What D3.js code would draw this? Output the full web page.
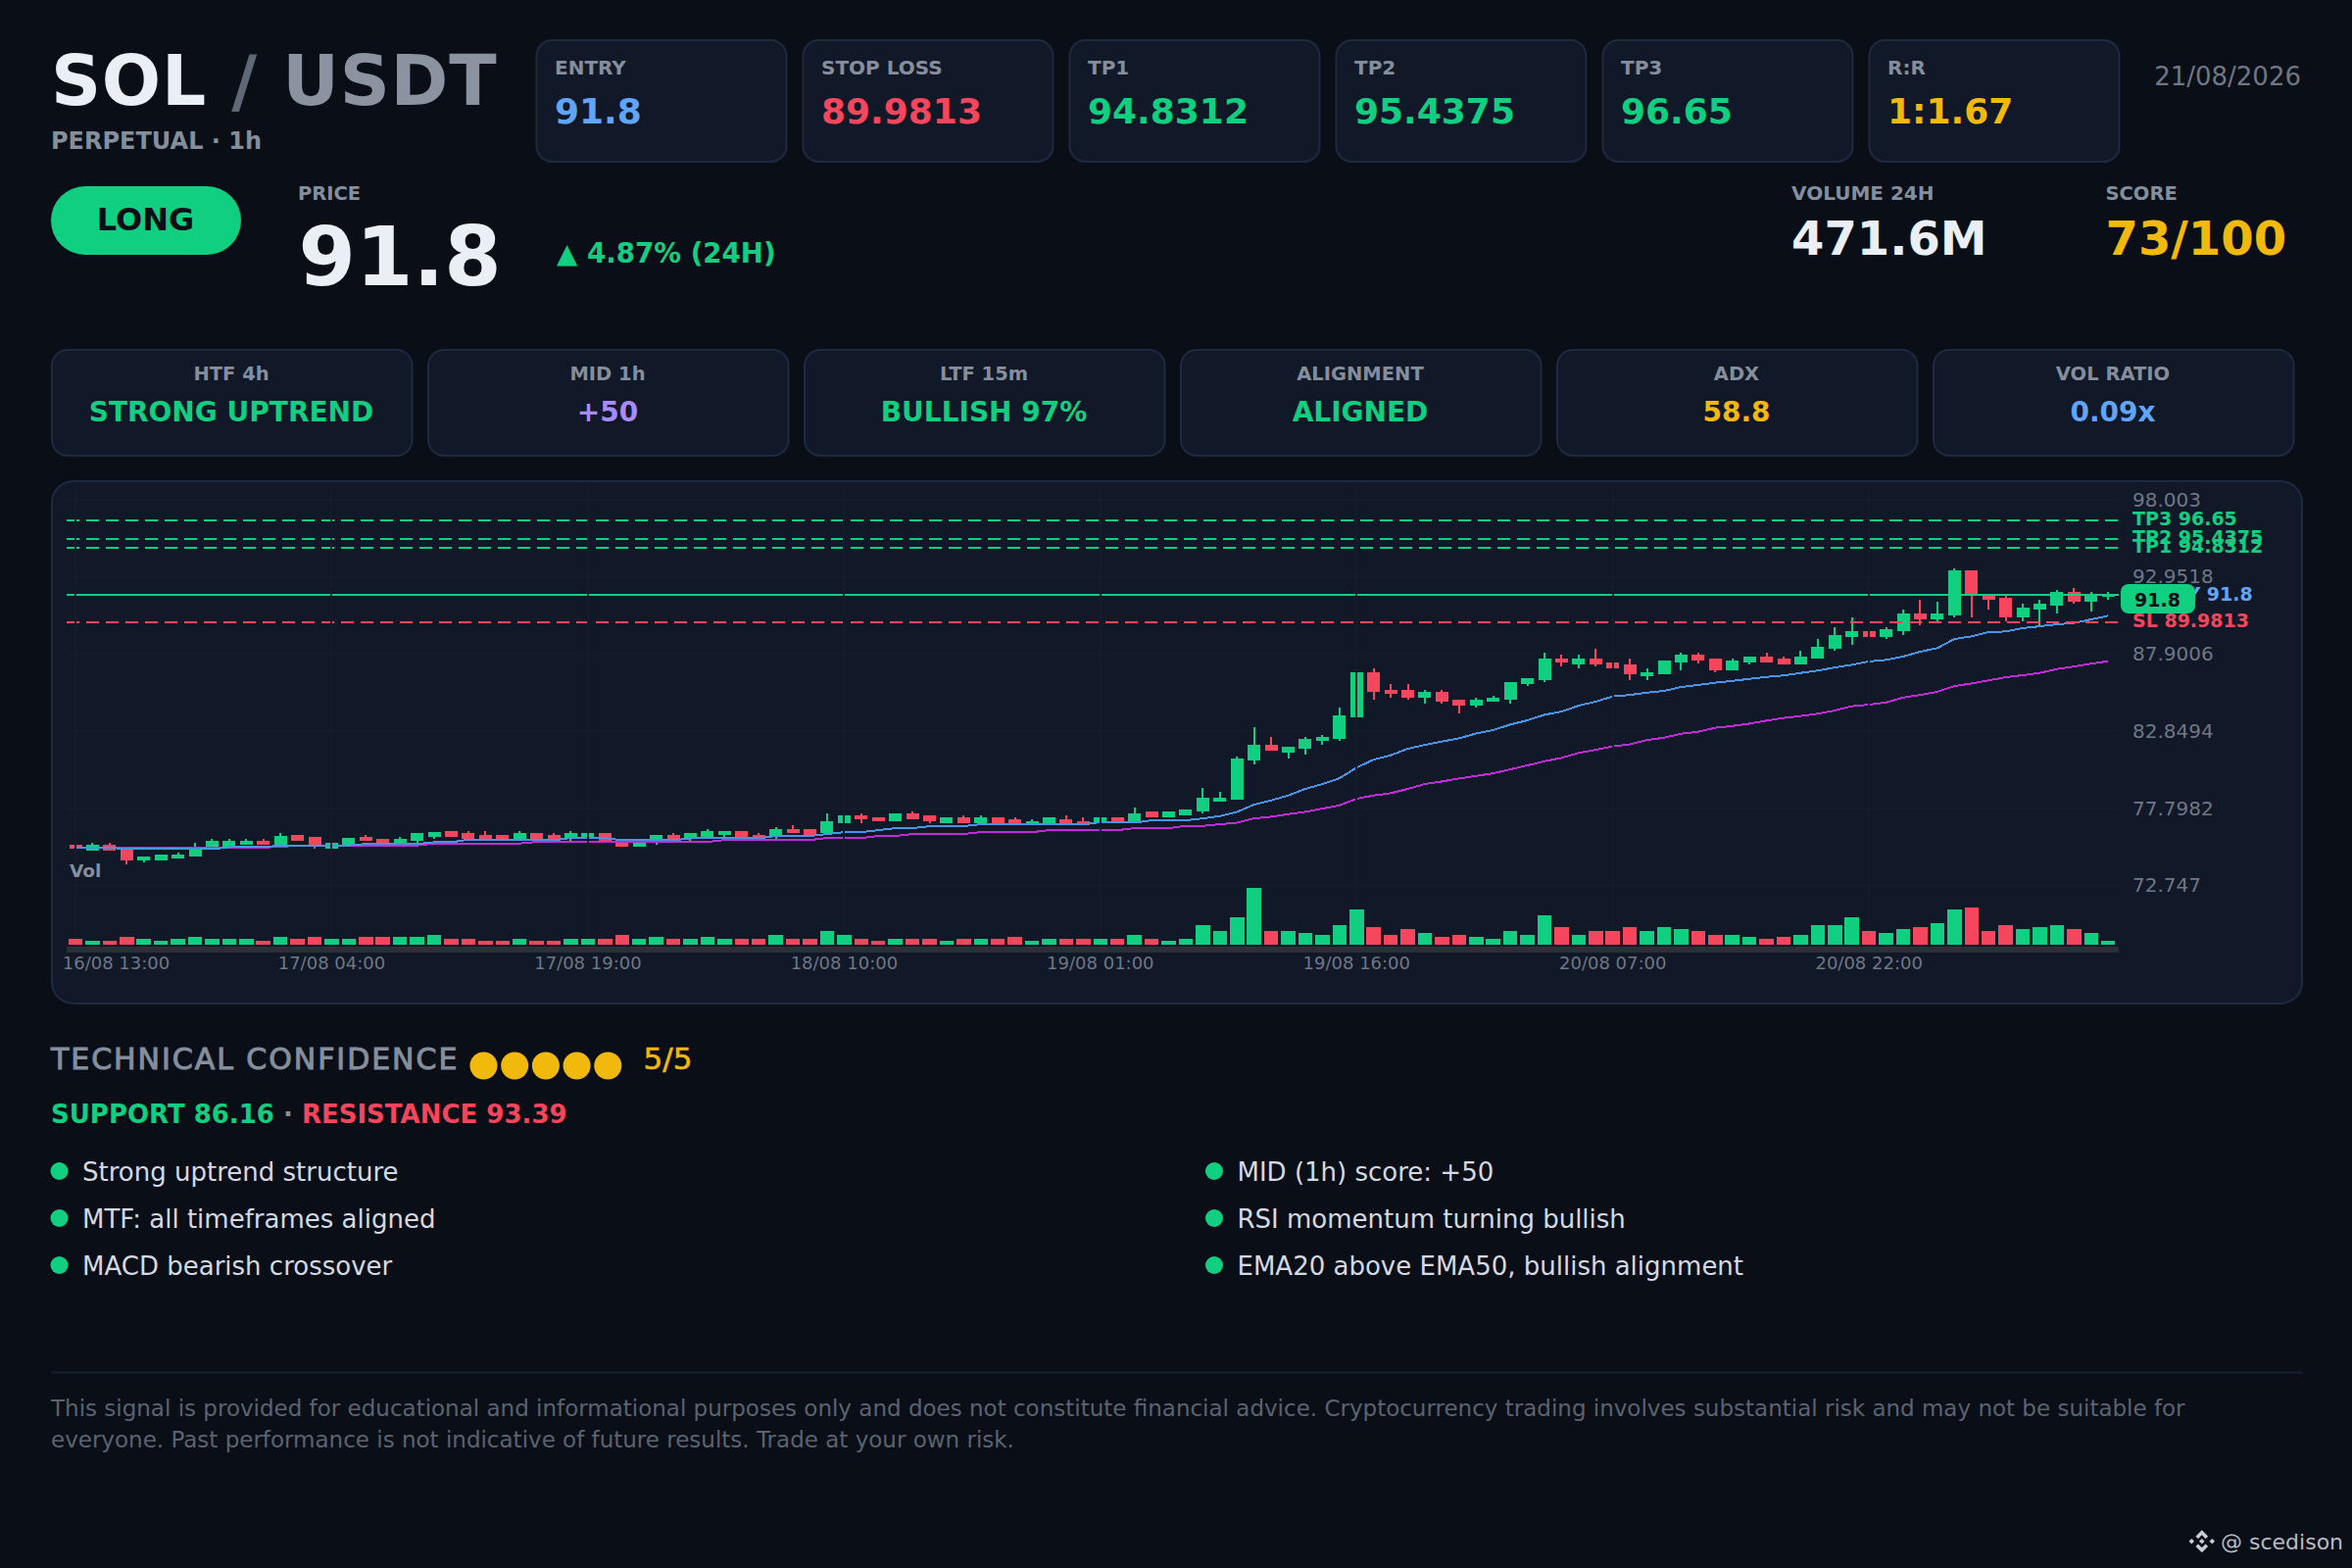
<!DOCTYPE html>
<html><head><meta charset="utf-8">
<script src="https://cdn.jsdelivr.net/npm/d3@7"></script>
<style>
html,body{margin:0;padding:0;background:#0a0e17}
svg{display:block}
text{font-family:"DejaVu Sans",sans-serif}
</style></head><body>
<svg id="c" width="2400" height="1600"></svg>
<script>
const open=[75.42,75.06,75.40,75.19,74.42,74.42,74.54,74.67,75.16,75.29,
75.42,75.66,75.40,76.04,75.91,75.16,75.40,75.91,75.78,75.42,
75.66,75.93,76.30,76.17,76.04,76.04,75.81,76.17,76.04,75.81,
75.89,76.17,75.76,75.29,75.66,76.04,75.81,75.93,76.06,76.30,
76.04,75.93,76.43,76.43,76.19,76.83,77.32,77.20,76.96,77.45,
77.32,76.83,77.20,76.83,77.20,77.07,76.72,76.83,77.07,76.94,
76.83,77.20,76.94,77.58,77.22,77.35,77.60,78.24,78.37,80.94,
81.96,81.45,81.71,82.22,82.35,83.76,86.71,85.55,85.55,85.04,
85.43,84.91,84.53,84.79,84.91,85.94,86.20,87.61,87.22,87.61,
87.35,87.22,86.45,86.58,87.35,87.84,87.59,86.84,87.35,87.71,
87.59,87.22,87.61,88.23,89.00,89.38,89.00,89.40,90.54,90.15,
90.41,93.36,91.69,91.56,90.28,90.79,91.05,91.95,91.31,91.63];
const high=[75.42,75.55,75.55,75.19,74.63,74.76,74.91,75.55,75.81,75.81,
75.81,75.81,76.19,76.04,75.91,75.53,75.89,76.08,75.78,75.93,
76.17,76.28,76.30,76.30,76.30,76.04,76.30,76.17,76.17,76.30,
76.17,76.17,75.76,75.66,76.04,76.19,76.17,76.45,76.30,76.30,
76.19,76.57,76.68,76.43,77.47,77.32,77.47,77.20,77.45,77.60,
77.32,77.20,77.35,77.35,77.20,77.22,77.09,77.20,77.35,77.22,
77.20,77.20,77.86,77.58,77.58,77.73,79.14,78.88,81.19,83.12,
82.48,81.83,82.48,82.60,84.40,86.71,86.97,85.94,85.94,85.55,
85.55,84.91,85.04,85.17,86.07,86.33,87.99,87.86,87.86,88.25,
87.35,87.61,86.97,87.48,87.99,88.01,87.59,87.59,87.71,87.99,
87.71,88.12,88.89,89.66,90.30,89.38,89.64,90.79,91.43,91.31,
93.49,93.36,91.69,91.69,91.18,91.43,92.08,92.20,91.95,91.95];
const low=[75.19,75.06,75.06,74.16,74.27,74.42,74.54,74.67,75.16,75.29,
75.42,75.42,75.40,75.66,75.16,75.16,75.40,75.66,75.40,75.42,
75.55,75.81,75.93,75.66,75.81,75.70,75.81,75.81,75.66,75.66,
75.89,75.59,75.31,75.29,75.42,75.68,75.68,75.93,75.93,75.93,
75.81,75.81,76.19,76.06,76.19,76.83,76.83,76.96,76.96,77.09,
76.83,76.83,76.83,76.83,76.83,76.72,76.72,76.70,76.83,76.72,
76.83,76.94,76.94,77.22,77.22,77.35,77.47,78.24,78.37,80.68,
81.58,81.06,81.32,81.96,82.22,83.76,84.91,85.04,84.91,84.66,
84.66,84.02,84.40,84.79,84.66,85.81,86.07,87.09,86.97,87.09,
86.97,86.20,86.20,86.58,86.84,87.27,86.71,86.84,87.22,87.35,
87.22,87.22,87.61,88.10,88.48,89.00,88.87,89.13,89.77,90.02,
90.28,90.28,90.79,90.02,90.02,89.77,90.54,91.18,90.67,91.43];
const close=[75.19,75.42,75.06,74.40,74.63,74.76,74.76,75.27,75.66,75.66,
75.66,75.42,76.02,75.66,75.38,75.53,75.89,75.66,75.40,75.78,
76.17,76.28,75.93,75.81,75.81,75.70,76.17,75.81,75.81,76.17,
76.17,75.68,75.31,75.66,76.04,75.68,76.17,76.30,76.30,75.93,
75.81,76.43,76.19,76.06,76.94,77.32,77.07,76.96,77.45,77.09,
76.96,77.20,76.83,77.20,76.83,76.72,76.94,77.20,76.83,76.72,
77.20,76.94,77.45,77.22,77.58,77.73,78.50,78.50,81.06,81.96,
81.58,81.83,82.35,82.48,83.89,86.71,85.43,85.30,85.04,85.43,
84.79,84.53,84.91,85.04,86.07,86.33,87.61,87.35,87.61,87.22,
86.97,86.58,86.71,87.48,87.86,87.48,86.84,87.46,87.71,87.35,
87.22,87.71,88.36,89.13,89.38,89.00,89.51,90.54,90.15,90.54,
93.36,91.69,91.46,90.28,90.92,91.18,91.95,91.31,91.82,91.80];
const ema20=[75.23,75.23,75.23,75.16,75.14,75.14,75.14,75.14,75.14,75.27,
75.27,75.27,75.38,75.38,75.38,75.38,75.38,75.48,75.48,75.48,
75.48,75.59,75.59,75.76,75.76,75.76,75.72,75.72,75.72,75.87,
75.87,75.87,75.72,75.72,75.72,75.72,75.85,75.85,75.85,75.85,
75.85,76.00,76.00,76.00,76.13,76.25,76.25,76.38,76.51,76.51,
76.64,76.64,76.64,76.77,76.77,76.77,76.77,76.77,76.77,76.77,
76.90,76.90,76.87,77.02,77.02,77.02,77.15,77.30,77.58,78.05,
78.33,78.65,79.08,79.40,79.78,80.47,81.00,81.28,81.71,81.96,
82.18,82.39,82.71,82.93,83.29,83.57,83.93,84.14,84.53,84.79,
85.13,85.23,85.38,85.49,85.75,85.88,86.03,86.15,86.28,86.41,
86.50,86.67,86.82,87.03,87.20,87.42,87.52,87.74,88.06,88.29,
88.89,89.06,89.34,89.38,89.60,89.72,89.85,89.94,90.17,90.41];
const ema50=[75.23,75.23,75.23,75.21,75.21,75.21,75.21,75.21,75.21,75.25,
75.25,75.25,75.29,75.38,75.38,75.38,75.38,75.38,75.38,75.38,
75.38,75.51,75.51,75.51,75.51,75.51,75.51,75.61,75.61,75.61,
75.61,75.61,75.61,75.61,75.61,75.61,75.61,75.61,75.74,75.74,
75.74,75.74,75.74,75.74,75.87,75.87,75.87,76.00,76.00,76.13,
76.13,76.13,76.13,76.25,76.25,76.25,76.25,76.38,76.38,76.38,
76.38,76.38,76.51,76.51,76.51,76.66,76.66,76.77,76.87,77.15,
77.26,77.43,77.58,77.79,78.01,78.44,78.65,78.80,79.08,79.40,
79.57,79.76,79.93,80.10,80.36,80.62,80.89,81.11,81.43,81.64,
81.86,82.00,82.28,82.43,82.69,82.82,83.08,83.20,83.35,83.55,
83.72,83.85,84.00,84.21,84.49,84.59,84.74,85.06,85.23,85.43,
85.81,85.98,86.18,86.39,86.52,86.67,86.92,87.09,87.27,87.44];
const volume=[6,4,4,8,6,4,6,8,6,6,6,4,8,6,8,6,6,8,8,8,8,10,6,6,4,4,6,4,4,6,
6,6,10,6,8,6,6,8,6,6,6,10,6,6,14,10,6,4,6,6,6,4,6,6,6,8,4,6,6,6,
6,6,10,6,4,6,20,14,28,58,14,14,12,10,20,36,18,10,16,12,8,10,8,6,14,10,30,18,10,14,
14,18,14,18,16,14,10,10,8,6,8,10,20,20,28,14,12,16,18,22,36,38,14,20,16,18,20,16,12,4];
const yTickValues=[98.003,92.9518,87.9006,82.8494,77.7982,72.747];
const xTickIndex=[0,15,30,45,60,75,90,105];
const xTickLabels=["16/08 13:00","17/08 04:00","17/08 19:00","18/08 10:00","19/08 01:00","19/08 16:00","20/08 07:00","20/08 22:00"];
const priceLevels=[
 {name:"TP3",value:96.65,label:"TP3 96.65",kind:"tp"},
 {name:"TP2",value:95.4375,label:"TP2 95.4375",kind:"tp"},
 {name:"TP1",value:94.8312,label:"TP1 94.8312",kind:"tp"},
 {name:"SL",value:89.9813,label:"SL 89.9813",kind:"sl"}];
const entryPrice=91.8;
const topCards=[["ENTRY","91.8","#60a5fa"],["STOP LOSS","89.9813","#f6465d"],["TP1","94.8312","#10cf80"],["TP2","95.4375","#10cf80"],["TP3","96.65","#10cf80"],["R:R","1:1.67","#f0b90b"]];
const midCards=[["HTF 4h","STRONG UPTREND","#10cf80"],["MID 1h","+50","#a78bfa"],["LTF 15m","BULLISH 97%","#10cf80"],["ALIGNMENT","ALIGNED","#10cf80"],["ADX","58.8","#f0b90b"],["VOL RATIO","0.09x","#60a5fa"]];
const confidenceDots=[1,2,3,4,5];
const bulletsLeft=["Strong uptrend structure","MTF: all timeframes aligned","MACD bearish crossover"];
const bulletsRight=["MID (1h) score: +50","RSI momentum turning bullish","EMA20 above EMA50, bullish alignment"];
const disclaimerLines=["This signal is provided for educational and informational purposes only and does not constitute financial advice. Cryptocurrency trading involves substantial risk and may not be suitable for","everyone. Past performance is not indicative of future results. Trade at your own risk."];

const GREEN="#10cf80",RED="#f6465d",YEL="#f0b90b",MUTED="#848e9c",CARD="#111827",BORDER="#1e2a3f",WHITE="#eaeef5",BG="#0a0e17";
const svg=d3.select("#c");
svg.append("rect").attr("width",2400).attr("height",1600).attr("fill",BG);
function T(x,y,s,size,fill,weight,anchor,ls){
  return svg.append("text").attr("x",x).attr("y",y).text(s).attr("font-size",size).attr("fill",fill)
   .attr("font-weight",weight||"normal").attr("text-anchor",anchor||"start").attr("letter-spacing",ls||0);
}
// header
const title=T(52,107,"",71,WHITE,"bold","start",0.7);
title.append("tspan").text("SOL").attr("fill",WHITE);
title.append("tspan").text(" / ").attr("fill","#5f6875");
title.append("tspan").text("USDT").attr("fill","#8b93a1");
T(52,152,"PERPETUAL · 1h",24,MUTED,"bold");
T(2348,87,"21/08/2026",26,"#6f7785","normal","end");
topCards.forEach((d,i)=>{
  const x=546.5+i*272;
  svg.append("rect").attr("x",x+1).attr("y",41).attr("width",255).attr("height",124).attr("rx",16).attr("fill",CARD).attr("stroke",BORDER).attr("stroke-width",2);
  T(x+19.5,76,d[0],20,MUTED,"bold");
  T(x+19.5,126,d[1],36,d[2],"bold");
});
svg.append("rect").attr("x",52).attr("y",190).attr("width",194).attr("height",70).attr("rx",35).attr("fill",GREEN);
T(148.5,235,"LONG",32,BG,"bold","middle");
T(304,204,"PRICE",19.5,MUTED,"bold");
T(304.5,291,"91.8",84,WHITE,"bold");
T(568,268,"▲ 4.87% (24H)",27.7,GREEN,"bold");
T(1828,204,"VOLUME 24H",20,MUTED,"bold");
T(1828,260,"471.6M",48,WHITE,"bold");
T(2148.5,204,"SCORE",19.5,MUTED,"bold");
T(2148.5,260,"73/100",48,YEL,"bold");
midCards.forEach((d,i)=>{
  const x=52+i*384;
  svg.append("rect").attr("x",x+1).attr("y",357).attr("width",367.5).attr("height",108).attr("rx",16).attr("fill",CARD).attr("stroke",BORDER).attr("stroke-width",2);
  T(x+184,388,d[0],19.5,MUTED,"bold","middle");
  T(x+184,430,d[1],28,d[2],"bold","middle");
});
// chart panel
svg.append("rect").attr("x",53).attr("y",491).attr("width",2296).attr("height",533).attr("rx",22).attr("fill",CARD).attr("stroke",BORDER).attr("stroke-width",2);
const x=d3.scaleLinear().domain([0,119]).range([77,2151.2]);
const y=d3.scaleLinear().domain([96.65,89.9813]).range([531,635]);
const v=d3.scaleLinear().domain([0,58]).range([964,906]);
const L=68,Rr=2162;
const n=open.length, idx=d3.range(n);
const grid=svg.append("g");
grid.selectAll("line.h").data(yTickValues).join("line").attr("x1",L).attr("x2",Rr).attr("y1",d=>y(d)).attr("y2",d=>y(d)).attr("stroke","#151c29").attr("stroke-width",2);
// candles
const candles=svg.append("g").attr("shape-rendering","crispEdges");
const col=i=>close[i]>=open[i]?GREEN:RED;
candles.selectAll("line").data(idx).join("line").attr("x1",i=>x(i)).attr("x2",i=>x(i)).attr("y1",i=>y(high[i])).attr("y2",i=>y(low[i])).attr("stroke",col).attr("stroke-width",2);
candles.selectAll("rect").data(idx).join("rect").attr("x",i=>x(i)-6.5).attr("width",13)
 .attr("y",i=>y(Math.max(open[i],close[i]))).attr("height",i=>Math.max(2,Math.abs(y(open[i])-y(close[i])))).attr("fill",col);
// EMA
const ln=a=>d3.line().x((d,i)=>x(i)).y(d=>y(d))(a);
svg.append("path").attr("d",ln(ema50)).attr("fill","none").attr("stroke","#c02bd8").attr("stroke-width",2).attr("shape-rendering","crispEdges");
svg.append("path").attr("d",ln(ema20)).attr("fill","none").attr("stroke","#4a94e6").attr("stroke-width",2).attr("shape-rendering","crispEdges");
// level lines
svg.append("line").attr("x1",L).attr("x2",Rr).attr("y1",y(entryPrice)).attr("y2",y(entryPrice)).attr("stroke",GREEN).attr("stroke-width",2).attr("shape-rendering","crispEdges");
svg.append("g").selectAll("line").data(priceLevels).join("line").attr("x1",L).attr("x2",Rr).attr("y1",d=>y(d.value)).attr("y2",d=>y(d.value))
 .attr("stroke",d=>d.kind==="tp"?GREEN:RED).attr("stroke-width",2).attr("stroke-dasharray","13 7").attr("shape-rendering","crispEdges");
// vertical grid over candles
svg.append("g").selectAll("line").data(xTickIndex).join("line").attr("x1",i=>x(i)).attr("x2",i=>x(i)).attr("y1",494).attr("y2",964).attr("stroke","#151c29").attr("stroke-width",2).attr("shape-rendering","crispEdges");
// volume
svg.append("g").attr("shape-rendering","crispEdges").selectAll("rect").data(idx).join("rect").attr("x",i=>x(i)-7.25).attr("width",14.5)
 .attr("y",i=>v(volume[i])).attr("height",i=>964-v(volume[i])).attr("fill",col);
// time axis
svg.append("rect").attr("x",L).attr("y",966).attr("width",Rr-L).attr("height",6).attr("fill","#2b3038");
const xAxis=d3.axisBottom(x).tickValues(xTickIndex).tickFormat((d,i)=>xTickLabels[i]).tickSize(0);
const gx=svg.append("g").attr("transform","translate(0,972)").call(xAxis);
gx.select(".domain").remove();
gx.selectAll("text").attr("font-size",18).attr("fill","#6f7785").attr("font-family","DejaVu Sans").attr("dy",0).attr("y",17).attr("dx",-0.5);
gx.selectAll("text").filter((d,i)=>i===0).attr("dx",41);
// y axis
const yAxis=d3.axisRight(y).tickValues(yTickValues).tickFormat(d=>String(d)).tickSize(0);
const gy=svg.append("g").attr("transform","translate(2176,-0.3)").call(yAxis);
gy.select(".domain").remove();
gy.selectAll("text").attr("x",0).attr("font-size",20).attr("fill","#6f7785").attr("font-family","DejaVu Sans");
// level labels
priceLevels.forEach(d=>{
  T(2176,y(d.value)+5,d.label,19,d.kind==="tp"?GREEN:RED,"bold");
});
T(2176,y(entryPrice)+6,"ENTRY "+entryPrice,19,"#60a5fa","bold");
svg.append("rect").attr("x",2164).attr("y",596).attr("width",76).attr("height",30).attr("rx",8).attr("fill",GREEN);
T(2201.5,618.5,String(entryPrice),19,BG,"bold","middle");
T(71,895,"Vol",18.5,MUTED,"bold");
// confidence
T(52,1091,"TECHNICAL CONFIDENCE",30,MUTED,"normal","start",1.95).attr("stroke",MUTED).attr("stroke-width",1);
svg.append("g").selectAll("circle").data(confidenceDots).join("circle").attr("cx",d=>493.5+(d-1)*31.7).attr("cy",1087.5).attr("r",14).attr("fill",YEL);
T(656.5,1091,"5/5",31,YEL,"normal").attr("stroke",YEL).attr("stroke-width",0.6);
const sr=T(52,1146,"",26,GREEN,"bold");
sr.append("tspan").text("SUPPORT 86.16").attr("fill",GREEN);
sr.append("tspan").text(" · ").attr("fill",MUTED);
sr.append("tspan").text("RESISTANCE 93.39").attr("fill",RED);
[[bulletsLeft,60.5,84],[bulletsRight,1239,1262.5]].forEach(([b,cx,tx])=>{
  b.forEach((s,i)=>{
    const yy=1195+i*48;
    svg.append("circle").attr("cx",cx).attr("cy",yy).attr("r",9).attr("fill",GREEN);
    T(tx,yy+9.5,s,26,"#d5d9e2","normal");
  });
});
svg.append("line").attr("x1",52).attr("x2",2350).attr("y1",1400.5).attr("y2",1400.5).attr("stroke","#172032").attr("stroke-width",2);
disclaimerLines.forEach((s,i)=>T(52,1444.5+i*32,s,23,"#5b6370","normal"));
// watermark
svg.append("path").attr("transform","translate(2233,1559) scale(1.15,1.15)")
 .attr("d","M12 2L17.5 7.5L15.3 9.7L12 6.4L8.7 9.7L6.5 7.5ZM12 22L17.5 16.5L15.3 14.3L12 17.6L8.7 14.3L6.5 16.5ZM0.5 12L2.9 9.6L5.3 12L2.9 14.4ZM18.7 12L21.1 9.6L23.5 12L21.1 14.4ZM12 9.6L14.4 12L12 14.4L9.6 12Z")
 .attr("fill","#c8ccd4");
T(2266,1581,"@ scedison",22,"#b8bcc5","normal");
</script></body></html>
